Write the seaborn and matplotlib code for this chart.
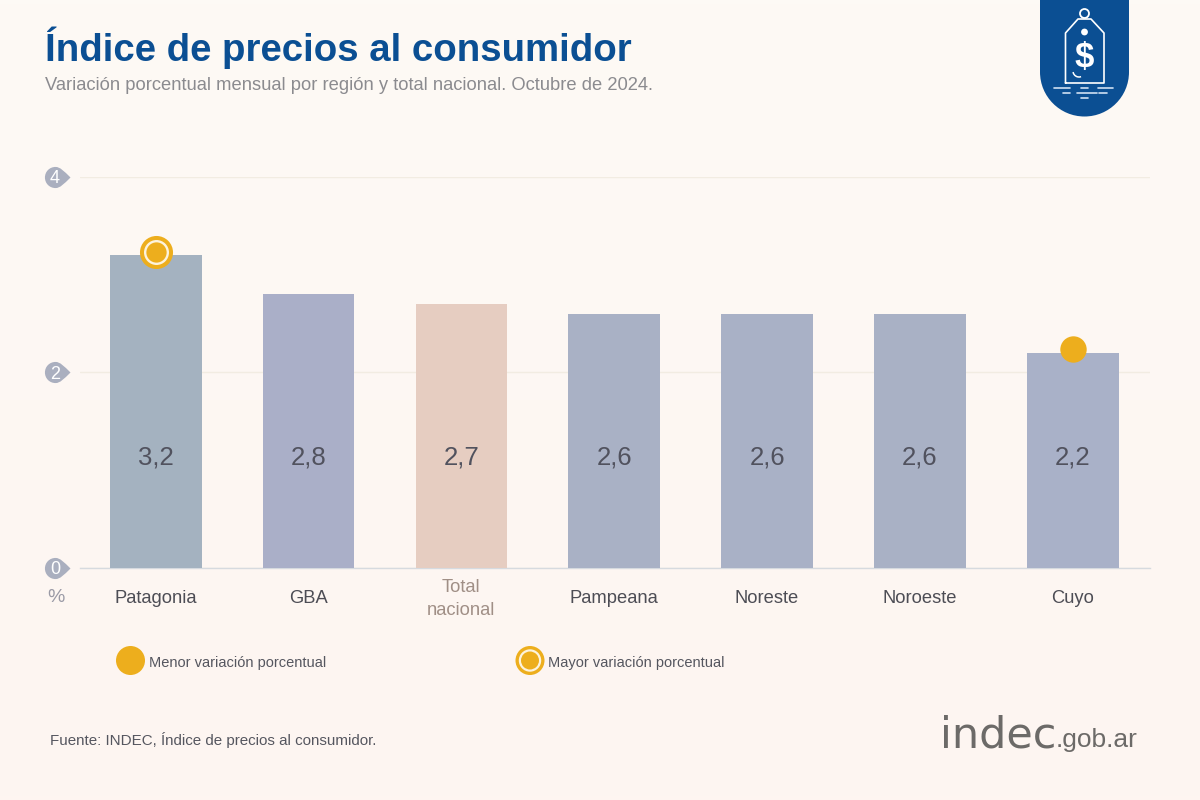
import numpy as np
import pandas as pd
import seaborn as sns
import matplotlib
matplotlib.use("Agg")
import matplotlib.pyplot as plt
from matplotlib.patches import Circle, PathPatch, Arc
from matplotlib.path import Path

# ---- data ----
regions = ["Patagonia", "GBA", "Total\nnacional", "Pampeana", "Noreste", "Noroeste", "Cuyo"]
values = [3.2, 2.8, 2.7, 2.6, 2.6, 2.6, 2.2]
value_labels = ["3,2", "2,8", "2,7", "2,6", "2,6", "2,6", "2,2"]
bar_colors = ["#a4b2c0", "#aaafc8", "#e6cdc1", "#a9b1c5", "#a9b1c6", "#a9b1c5", "#a9b1c8"]
y_ticks = [0, 2, 4]
high_region, high_mark = 0, 3.23
low_region, low_mark = 6, 2.24
title = "Índice de precios al consumidor"
subtitle = "Variación porcentual mensual por región y total nacional. Octubre de 2024."
source = "Fuente: INDEC, Índice de precios al consumidor."
legend_low = "Menor variación porcentual"
legend_high = "Mayor variación porcentual"

FONT = "Liberation Sans"
BLUE = "#0b4f93"
GOLD = "#edae1d"
PALE = "#fdf3dd"
TEXT = "#55565f"

sns.set_theme(style="white")
plt.rcParams["font.family"] = [FONT, "DejaVu Sans"]

fig = plt.figure(figsize=(12, 8), dpi=100)

# background wash
bg = fig.add_axes([0, 0, 1, 1], zorder=0)
top = np.array([253, 250, 245]) / 255
bot = np.array([254, 245, 241]) / 255
t = np.linspace(0, 1, 200)[:, None, None]
bg.imshow(top * (1 - t) + bot * t, aspect="auto", extent=[0, 1200, 800, 0], zorder=0)
bg.set_xlim(0, 1200)
bg.set_ylim(800, 0)
bg.axis("off")

# chart
ax = fig.add_axes([80 / 1200, (800 - 568) / 800, 1070 / 1200, (568 - 176.5) / 800], zorder=2)
ax.patch.set_alpha(0)
df = pd.DataFrame({"region": regions, "value": values})
sns.barplot(data=df, x="region", y="value", hue="region", palette=bar_colors,
            legend=False, width=0.6, saturation=1, linewidth=0, ax=ax, zorder=3)
ax.set_xlim(-0.495, 6.505)
ax.set_ylim(0, 4)
ax.set_xlabel("")
ax.set_ylabel("")
sns.despine(ax=ax, left=True, top=True, right=True, bottom=False)
ax.spines["bottom"].set_color("#d6dadf")
ax.spines["bottom"].set_linewidth(1)
ax.set_axisbelow(True)
ax.set_yticks(y_ticks)
ax.yaxis.grid(True, color="#f2ece2", linewidth=1)
ax.xaxis.grid(False)
ax.tick_params(axis="y", length=0, labelleft=False)
ax.tick_params(axis="x", length=0, pad=22.2, labelsize=13.2, labelcolor="#4d4d55")
ax.set_xticks(range(len(regions)))
ax.set_xticklabels(regions, fontfamily=FONT, linespacing=1.5, va="center")
ax.get_xticklabels()[2].set_color("#a08f86")

for i, lab in enumerate(value_labels):
    ax.text(i, 1.13, lab, ha="center", va="center", fontsize=18.5, color="#51525e", zorder=5)

# y tick badges
drop = Path([(-1, 0), (-1, 0.56), (-0.56, 1), (0, 1), (0.45, 1), (0.8, 0.6), (1.42, 0),
             (0.8, -0.6), (0.45, -1), (0, -1), (-0.56, -1), (-1, -0.56), (-1, 0)],
            [1, 4, 4, 4, 4, 4, 4, 4, 4, 4, 4, 4, 4])
trans = ax.get_yaxis_transform()
for v in y_ticks:
    ax.plot([-0.0235], [v], marker=drop, ms=21.6, color="#aaafbf", mew=0,
            transform=trans, clip_on=False, zorder=6)
    ax.text(-0.0235, v, str(v), transform=trans, ha="center", va="center_baseline",
            fontsize=13, color="white", zorder=7)

# highlighted points
ax.plot([low_region], [low_mark], "o", ms=19, color=GOLD, mew=0, clip_on=False, zorder=6)
ax.plot([high_region], [high_mark], "o", ms=23.8, color=GOLD, mew=0, clip_on=False, zorder=6)
ax.plot([high_region], [high_mark], "o", ms=18, color=PALE, mew=0, clip_on=False, zorder=6)
ax.plot([high_region], [high_mark], "o", ms=14.6, color=GOLD, mew=0, clip_on=False, zorder=7)

# overlay in pixel coordinates
ov = fig.add_axes([0, 0, 1, 1], zorder=3)
ov.set_xlim(0, 1200)
ov.set_ylim(800, 0)
ov.axis("off")
ov.patch.set_alpha(0)

ov.text(45, 61, title, fontsize=27.6, fontweight="bold", color=BLUE, va="baseline", ha="left")
ov.text(45, 85, subtitle, fontsize=13.2, color="#8b8b8f", va="center", ha="left")
ov.text(56, 598, "%", fontsize=14, color="#9a9aa6", va="center", ha="center")

# legend
ov.add_patch(Circle((130.5, 660.5), 14.5, color=GOLD, lw=0))
ov.text(149, 662.5, legend_low, fontsize=10.5, color=TEXT, va="center", ha="left")
ov.add_patch(Circle((530, 660.5), 14.5, color=GOLD, lw=0))
ov.add_patch(Circle((530, 660.5), 11.2, color=PALE, lw=0))
ov.add_patch(Circle((530, 660.5), 9.0, color=GOLD, lw=0))
ov.text(548, 662.5, legend_high, fontsize=10.5, color=TEXT, va="center", ha="left")

ov.text(50, 739.5, source, fontsize=10.9, color=TEXT, va="center", ha="left")

# footer logo wordmark
ov.text(940, 748, "indec", fontsize=31, family="DejaVu Sans", color="#6c6a68", va="baseline", ha="left")
ov.text(1138, 747, ".gob.ar", fontsize=19, color="#6c6a68", va="baseline", ha="right")

# badge with price tag
k = 0.5523
r = 44.5
xl, xr, yb = 1040, 1129, 116.5
cx = (xl + xr) / 2
badge = Path([(xl, 0), (xr, 0), (xr, yb - r), (xr, yb - r + k * r), (cx + k * r, yb), (cx, yb),
              (cx - k * r, yb), (xl, yb - r + k * r), (xl, yb - r), (xl, 0)],
             [1, 2, 2, 4, 4, 4, 4, 4, 4, 2])
ov.add_patch(PathPatch(badge, fc=BLUE, lw=0))
ov.plot([1065.5, 1065.5, 1078, 1091, 1104, 1104, 1065.5],
        [83, 33, 19, 19, 33, 83, 83], color="white", lw=1.2, zorder=5)
ov.add_patch(Circle((1084.5, 13.5), 4.5, fc="none", ec="white", lw=1.3))
ov.add_patch(Circle((1084.5, 32), 3.4, color="white", lw=0))
ov.text(1084.5, 58, "$", fontsize=25, fontweight="bold", color="white", ha="center", va="center")
ov.add_patch(Arc((1079, 71), 12, 12, theta1=70, theta2=170, ec="white", lw=1.1))
for x0, x1, y in [(1054, 1070, 88), (1081, 1088, 88), (1098, 1113, 88),
                  (1063, 1070, 93), (1077, 1097, 93), (1099, 1107, 93), (1081, 1088, 98)]:
    ov.plot([x0, x1], [y, y], color="#cfe0f2", lw=1.2)

fig.savefig("out.png", dpi=100)
